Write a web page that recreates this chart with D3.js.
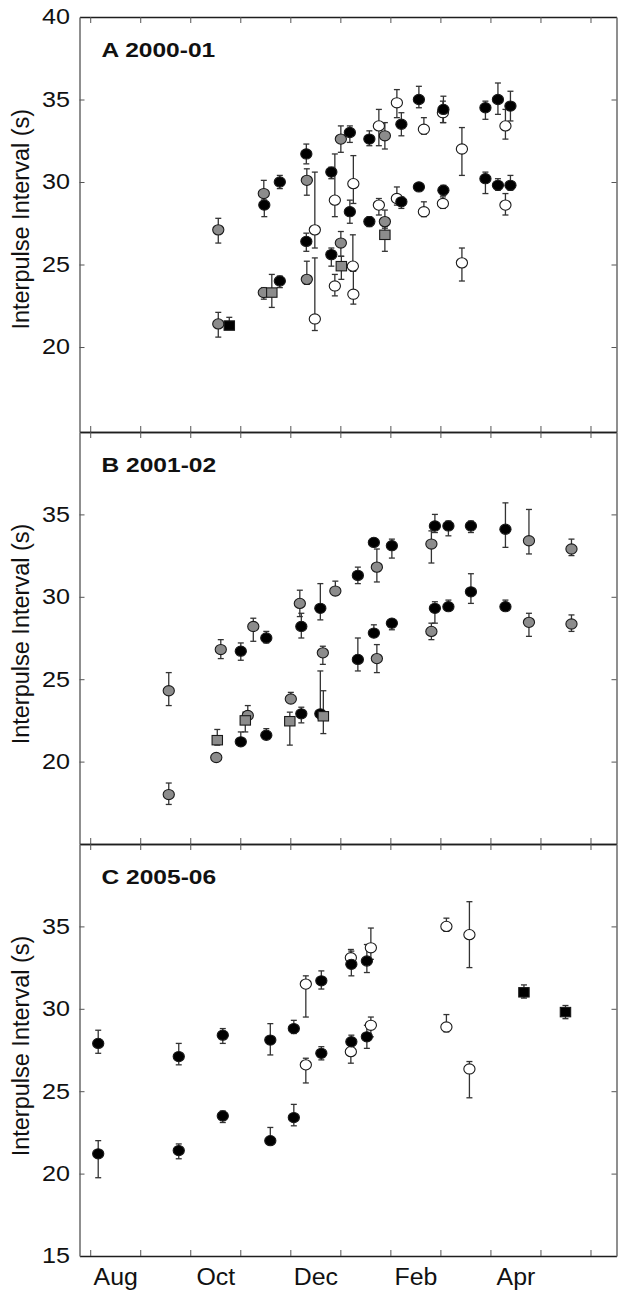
<!DOCTYPE html>
<meta charset="utf-8">
<style>

body {
  margin: 0;
  background: #fff;
}

svg {
  font-family: "Liberation Sans", Arial, sans-serif;
}

.axis-h .domain {
  stroke: #1e1e1e;
  stroke-width: 1.6px;
}

.axis-v .domain {
  stroke: #6a6a6a;
  stroke-width: 1.5px;
}

.tick line {
  stroke: #555;
  stroke-width: 1px;
}

.tick text {
  fill: #111;
  font-size: 21.5px;
}

.months .tick text {
  font-size: 23.5px;
}

.title {
  font-size: 21px;
  font-weight: bold;
  fill: #111;
}

.ylabel {
  font-size: 23.5px;
  fill: #111;
  text-anchor: middle;
}

.bars line {
  stroke: #333;
  stroke-width: 1.3px;
}

</style>
<svg></svg>
<script src="https://d3js.org/d3.v7.min.js"></script>
<script>

// month index: 0 = 1 Aug, 1 = 1 Sep, ...
var monthTicks = [0, 1, 2, 3, 4, 5, 6, 7, 8, 9, 10];
var monthNames = ['Aug', 'Oct', 'Dec', 'Feb', 'Apr'];
var monthNamePos = [0.5, 2.5, 4.5, 6.5, 8.5];

var yTicks = [20, 25, 30, 35];
var yLabelsA = [20, 25, 30, 35, 40];
var yLabelsB = [20, 25, 30, 35];
var yLabelsC = [15, 20, 25, 30, 35];

var titles = ['A 2000-01', 'B 2001-02', 'C 2005-06'];

// [group, month, interval, lower, upper]
// B = black circle, G = grey circle, O = open circle, GS = grey square, BS = black square
var pointsA = [
  ['G', 2.56, 27.1, 26.3, 27.8],
  ['G', 2.56, 21.4, 20.6, 22.1],
  ['BS', 2.78, 21.3, 21.1, 21.8],
  ['G', 3.47, 29.3, 28.9, 30.1],
  ['B', 3.48, 28.6, 27.9, 28.9],
  ['B', 3.79, 30.0, 29.6, 30.4],
  ['G', 3.47, 23.3, 22.9, 23.6],
  ['GS', 3.63, 23.3, 22.4, 24.4],
  ['B', 3.79, 24.0, 23.6, 24.3],
  ['B', 4.32, 31.7, 31.1, 32.3],
  ['G', 4.33, 30.1, 29.2, 30.8],
  ['B', 4.32, 26.4, 25.8, 26.9],
  ['G', 4.33, 24.1, 23.8, 25.2],
  ['O', 4.49, 27.1, 26.0, 30.6],
  ['O', 4.49, 21.7, 21.0, 25.4],
  ['B', 4.82, 30.6, 30.2, 30.9],
  ['O', 4.89, 28.9, 27.9, 31.7],
  ['O', 4.89, 23.7, 23.1, 24.4],
  ['B', 4.82, 25.6, 24.9, 26.0],
  ['G', 5.01, 32.6, 31.8, 33.4],
  ['G', 5.01, 26.3, 25.5, 27.0],
  ['GS', 5.02, 24.9, 24.1, 25.5],
  ['B', 5.19, 33.0, 32.4, 33.4],
  ['B', 5.19, 28.2, 27.5, 28.9],
  ['O', 5.26, 29.9, 28.7, 31.6],
  ['O', 5.25, 24.9, 24.6, 26.8],
  ['O', 5.26, 23.2, 22.6, 24.6],
  ['B', 5.58, 27.6, 27.3, 27.9],
  ['B', 5.58, 32.6, 32.2, 33.1],
  ['O', 5.77, 33.4, 32.2, 34.4],
  ['O', 5.77, 28.6, 28.0, 29.0],
  ['G', 5.89, 32.8, 32.0, 33.6],
  ['G', 5.89, 27.6, 27.2, 28.3],
  ['GS', 5.89, 26.8, 25.8, 27.3],
  ['O', 6.13, 34.8, 33.9, 35.6],
  ['B', 6.22, 33.5, 32.8, 34.2],
  ['O', 6.13, 29.0, 28.6, 29.7],
  ['B', 6.22, 28.8, 28.4, 29.1],
  ['B', 6.57, 35.0, 34.5, 35.8],
  ['B', 6.57, 29.7, 29.5, 29.9],
  ['O', 6.67, 33.2, 32.9, 33.9],
  ['O', 6.67, 28.2, 27.9, 28.8],
  ['O', 7.05, 34.2, 33.6, 34.9],
  ['B', 7.06, 34.4, 33.6, 35.2],
  ['B', 7.06, 29.5, 29.2, 29.8],
  ['O', 7.05, 28.7, 28.4, 29.1],
  ['O', 7.43, 32.0, 30.4, 33.3],
  ['O', 7.43, 25.1, 24.0, 26.0],
  ['B', 7.90, 34.5, 33.8, 34.9],
  ['B', 7.90, 30.2, 29.3, 30.6],
  ['B', 8.15, 35.0, 34.1, 36.0],
  ['B', 8.15, 29.8, 29.5, 30.2],
  ['O', 8.30, 33.4, 32.6, 34.4],
  ['O', 8.30, 28.6, 28.0, 29.3],
  ['B', 8.40, 34.6, 33.7, 35.5],
  ['B', 8.40, 29.8, 29.5, 30.4]
];

var pointsB = [
  ['G', 1.57, 24.3, 23.4, 25.4],
  ['G', 1.57, 18.0, 17.4, 18.7],
  ['G', 2.52, 20.25, 20.25, 20.25],
  ['GS', 2.54, 21.3, 21.0, 21.95],
  ['G', 2.61, 26.8, 26.25, 27.4],
  ['B', 3.01, 26.7, 26.15, 27.2],
  ['B', 3.01, 21.2, 21.0, 21.8],
  ['GS', 3.10, 22.5, 21.8, 23.0],
  ['G', 3.15, 22.8, 22.5, 23.4],
  ['G', 3.26, 28.2, 27.3, 28.7],
  ['B', 3.52, 27.5, 27.2, 27.9],
  ['B', 3.52, 21.6, 21.4, 22.0],
  ['GS', 3.99, 22.45, 21.0, 23.0],
  ['G', 4.01, 23.8, 23.6, 24.2],
  ['G', 4.19, 29.6, 28.8, 30.4],
  ['B', 4.22, 28.2, 27.5, 29.0],
  ['B', 4.22, 22.9, 22.35, 23.3],
  ['B', 4.60, 29.3, 28.6, 30.8],
  ['B', 4.60, 22.9, 22.6, 25.5],
  ['GS', 4.66, 22.75, 21.7, 24.3],
  ['G', 4.65, 26.6, 25.9, 27.0],
  ['G', 4.90, 30.35, 30.1, 30.95],
  ['B', 5.35, 31.3, 30.8, 31.8],
  ['B', 5.35, 26.2, 25.5, 27.5],
  ['B', 5.67, 33.3, 33.1, 33.5],
  ['B', 5.67, 27.8, 27.6, 28.3],
  ['G', 5.73, 31.8, 30.9, 32.9],
  ['G', 5.73, 26.25, 25.4, 27.1],
  ['B', 6.03, 33.1, 32.35, 33.5],
  ['B', 6.03, 28.4, 28.0, 28.6],
  ['G', 6.82, 33.2, 32.05, 34.0],
  ['G', 6.82, 27.9, 27.4, 28.4],
  ['B', 6.89, 34.3, 33.9, 35.0],
  ['B', 6.89, 29.3, 28.4, 29.7],
  ['B', 7.16, 34.3, 33.7, 34.6],
  ['B', 7.16, 29.4, 29.2, 29.8],
  ['B', 7.61, 34.3, 33.9, 34.6],
  ['B', 7.61, 30.3, 29.6, 31.4],
  ['B', 8.30, 34.1, 33.0, 35.7],
  ['B', 8.30, 29.4, 29.2, 29.8],
  ['G', 8.77, 33.4, 32.6, 35.3],
  ['G', 8.77, 28.45, 27.6, 29.0],
  ['G', 9.62, 32.9, 32.5, 33.5],
  ['G', 9.62, 28.35, 27.9, 28.9]
];

var pointsC = [
  ['B', 0.16, 27.9, 27.3, 28.7],
  ['B', 0.16, 21.2, 19.75, 22.0],
  ['B', 1.77, 27.1, 26.6, 27.9],
  ['B', 1.77, 21.4, 20.9, 21.8],
  ['B', 2.65, 28.4, 27.9, 28.8],
  ['B', 2.65, 23.5, 23.1, 23.8],
  ['B', 3.60, 28.1, 27.2, 29.1],
  ['B', 3.60, 22.0, 21.8, 22.8],
  ['B', 4.07, 28.8, 28.5, 29.3],
  ['B', 4.07, 23.4, 22.9, 24.2],
  ['O', 4.31, 31.5, 29.5, 32.0],
  ['O', 4.31, 26.6, 25.5, 27.0],
  ['B', 4.62, 31.7, 31.2, 32.3],
  ['B', 4.62, 27.3, 26.9, 27.7],
  ['O', 5.21, 33.1, 32.6, 33.6],
  ['B', 5.22, 32.7, 32.0, 33.5],
  ['O', 5.21, 27.4, 26.7, 27.9],
  ['B', 5.22, 28.0, 27.7, 28.4],
  ['O', 5.61, 33.7, 33.0, 34.9],
  ['B', 5.53, 32.9, 32.2, 33.9],
  ['O', 5.61, 29.0, 28.3, 29.5],
  ['B', 5.53, 28.3, 27.6, 29.0],
  ['O', 7.12, 35.0, 34.7, 35.5],
  ['O', 7.12, 28.9, 28.6, 29.65],
  ['O', 7.58, 34.5, 32.5, 36.5],
  ['O', 7.58, 26.35, 24.6, 26.8],
  ['BS', 8.67, 31.0, 30.65, 31.45],
  ['BS', 9.50, 29.8, 29.4, 30.2]
];

var width = 624;
var height = 1297;
var left = 79.5;
var right = 616.5;
var textStretch = 1.17;

var panels = [
  { title: titles[0], top: 17, bottom: 432, domain: [14.85, 40], labels: yLabelsA, points: pointsA },
  { title: titles[1], top: 432, bottom: 844, domain: [15, 40], labels: yLabelsB, points: pointsB },
  { title: titles[2], top: 844, bottom: 1256, domain: [15, 40], labels: yLabelsC, points: pointsC }
];

var fills = { B: '#000', G: '#8c8c8c', O: '#fff', GS: '#8c8c8c', BS: '#000' };

var svg = d3.select('svg')
  .attr('width', width)
  .attr('height', height);

svg.append('rect')
  .attr('width', width)
  .attr('height', height)
  .attr('fill', '#fff');

var x = d3.scaleLinear().domain([-0.214, 10.52]).range([left, right]);

panels.forEach(function (p, pi) {
  var y = d3.scaleLinear().domain(p.domain).range([p.bottom, p.top]);
  var g = svg.append('g');

  // frame ticks
  g.append('g')
    .attr('class', 'axis-h')
    .attr('transform', 'translate(0,' + p.bottom + ')')
    .call(d3.axisBottom(x).tickValues(monthTicks).tickSizeInner(-6).tickSizeOuter(0).tickFormat(''));

  g.append('g')
    .attr('class', 'axis-h')
    .attr('transform', 'translate(0,' + p.top + ')')
    .call(d3.axisTop(x).tickValues(monthTicks).tickSizeInner(-6).tickSizeOuter(0).tickFormat(''));

  g.append('g')
    .attr('class', 'axis-v')
    .attr('transform', 'translate(' + right + ',0)')
    .call(d3.axisRight(y).tickValues(yTicks).tickSizeInner(-5).tickSizeOuter(0).tickFormat(''));

  var yAxis = g.append('g')
    .attr('class', 'axis-v')
    .attr('transform', 'translate(' + left + ',0)')
    .call(d3.axisLeft(y).tickValues(p.labels).tickSizeInner(-5).tickSizeOuter(0).tickPadding(0));

  yAxis.selectAll('.tick line')
    .filter(function (d) { return d === 40 || d === 15; })
    .remove();

  yAxis.selectAll('.tick text')
    .attr('x', -9.5 / textStretch)
    .attr('transform', 'scale(' + textStretch + ',1)');

  g.append('text')
    .attr('class', 'title')
    .attr('transform', 'translate(101.5,' + (p.top + 39.5) + ') scale(' + textStretch + ',1)')
    .text(p.title);

  g.append('text')
    .attr('class', 'ylabel')
    .attr('transform', 'translate(29,' + (y(27.5) - 4) + ') rotate(-90)')
    .text('Interpulse Interval (s)');

  // error bars
  var bars = g.append('g')
    .attr('class', 'bars')
    .selectAll('g')
    .data(p.points.filter(function (d) { return d[3] !== d[4]; }))
    .enter().append('g');

  bars.append('line')
    .attr('x1', function (d) { return x(d[1]); })
    .attr('x2', function (d) { return x(d[1]); })
    .attr('y1', function (d) { return y(d[3]); })
    .attr('y2', function (d) { return y(d[4]); });

  bars.append('line')
    .attr('x1', function (d) { return x(d[1]) - 3; })
    .attr('x2', function (d) { return x(d[1]) + 3; })
    .attr('y1', function (d) { return y(d[4]); })
    .attr('y2', function (d) { return y(d[4]); });

  bars.append('line')
    .attr('x1', function (d) { return x(d[1]) - 3; })
    .attr('x2', function (d) { return x(d[1]) + 3; })
    .attr('y1', function (d) { return y(d[3]); })
    .attr('y2', function (d) { return y(d[3]); });

  // markers
  var marks = g.append('g')
    .selectAll('.mark')
    .data(p.points)
    .enter();

  marks.filter(function (d) { return d[0].length === 1; })
    .append('ellipse')
    .attr('cx', function (d) { return x(d[1]); })
    .attr('cy', function (d) { return y(d[2]); })
    .attr('rx', 5.6)
    .attr('ry', 5.1)
    .attr('fill', function (d) { return fills[d[0]]; })
    .attr('stroke', '#1a1a1a')
    .attr('stroke-width', 1.1);

  marks.filter(function (d) { return d[0].length === 2; })
    .append('rect')
    .attr('x', function (d) { return x(d[1]) - 5.2; })
    .attr('y', function (d) { return y(d[2]) - 4.7; })
    .attr('width', 10.4)
    .attr('height', 9.4)
    .attr('fill', function (d) { return fills[d[0]]; })
    .attr('stroke', '#1a1a1a')
    .attr('stroke-width', 1.1);

  if (pi === panels.length - 1) {
    var months = g.append('g')
      .attr('class', 'months')
      .attr('transform', 'translate(0,' + p.bottom + ')')
      .call(d3.axisBottom(x).tickValues(monthNamePos).tickSize(0).tickPadding(12)
        .tickFormat(function (d, i) { return monthNames[i]; }));
    months.select('.domain').remove();
    months.selectAll('.tick text')
      .attr('transform', 'scale(1.06,1)');
  }
});

</script>
